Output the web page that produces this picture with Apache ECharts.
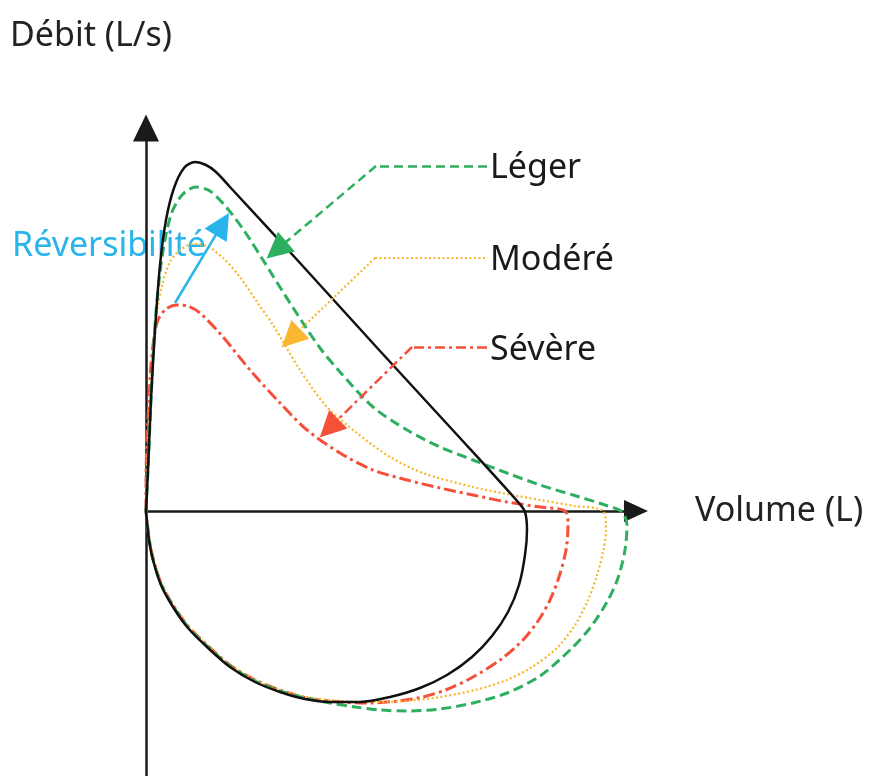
<!DOCTYPE html>
<html><head><meta charset="utf-8">
<script src="https://cdn.jsdelivr.net/npm/echarts@6/dist/echarts.min.js"></script>
<style>html,body{margin:0;padding:0;background:#fff}#c{width:869px;height:776px}</style>
</head><body><div id="c"></div>
<script>
// Flow-volume loops: [volume (L), flow (L/s)]
const normalLoop = [
 [0,0],[0.02,0.41],[0.05,1.11],[0.09,1.81],[0.14,2.46],[0.20,2.91],[0.28,3.23],[0.38,3.43],[0.49,3.49],[0.60,3.46],[0.70,3.39],[0.84,3.24],
 [1.54,2.48],[2.34,1.60],[3.14,0.73],[3.72,0.09],[3.79,-0.01],[3.81,-0.19],[3.79,-0.44],[3.73,-0.74],[3.62,-1.01],[3.46,-1.25],[3.26,-1.46],
 [3.01,-1.64],[2.74,-1.77],[2.44,-1.86],[2.14,-1.91],[1.84,-1.91],[1.59,-1.88],[1.34,-1.81],[1.09,-1.71],[0.84,-1.56],[0.61,-1.36],[0.42,-1.17],
 [0.27,-0.96],[0.15,-0.74],[0.07,-0.49],[0.03,-0.29],[0.01,-0.11],[0,0]
];
const legerLoop = [
 [0,0],[0.02,0.41],[0.05,1.11],[0.08,1.71],[0.12,2.21],[0.18,2.66],[0.26,2.99],[0.37,3.17],[0.50,3.24],[0.64,3.20],[0.81,3.03],[0.99,2.79],
 [1.17,2.51],[1.37,2.19],[1.57,1.88],[1.74,1.63],[1.94,1.39],[2.27,1.04],[2.61,0.81],[2.94,0.64],[3.27,0.51],[3.61,0.38],[3.94,0.26],[4.27,0.16],
 [4.59,0.06],[4.76,-0.01],[4.81,-0.14],[4.79,-0.39],[4.72,-0.67],[4.61,-0.91],[4.44,-1.17],[4.24,-1.39],[3.94,-1.65],[3.61,-1.82],[3.27,-1.92],
 [2.94,-1.98],[2.61,-2.00],[2.34,-1.99],[2.09,-1.96],[1.84,-1.92],[1.59,-1.87],[1.34,-1.80],[1.09,-1.70],[0.84,-1.55],[0.61,-1.35],[0.42,-1.16],
 [0.27,-0.95],[0.15,-0.73],[0.07,-0.48],[0.03,-0.28],[0.01,-0.10],[0,0]
];
const modereLoop = [
 [0,0],[0.01,0.41],[0.03,0.91],[0.06,1.41],[0.10,1.91],[0.16,2.26],[0.24,2.49],[0.34,2.61],[0.47,2.67],[0.61,2.65],[0.77,2.53],[0.94,2.34],
 [1.11,2.09],[1.27,1.86],[1.54,1.41],[1.81,1.04],[2.11,0.78],[2.44,0.54],[2.77,0.38],[3.27,0.24],[3.61,0.17],[3.94,0.11],[4.29,0.05],[4.57,0],
 [4.60,-0.19],[4.57,-0.41],[4.51,-0.64],[4.42,-0.89],[4.29,-1.14],[4.11,-1.37],[3.86,-1.56],[3.61,-1.69],[3.29,-1.79],[2.94,-1.86],[2.59,-1.90],
 [2.24,-1.91],[1.94,-1.90],[1.61,-1.86],[1.34,-1.79],[1.09,-1.69],[0.84,-1.54],[0.61,-1.34],[0.42,-1.15],[0.27,-0.94],[0.15,-0.72],[0.07,-0.47],
 [0.03,-0.27],[0,0]
];
const severeLoop = [
 [0,0],[0,0.31],[0.01,0.71],[0.03,1.11],[0.05,1.46],[0.08,1.73],[0.12,1.91],[0.20,2.02],[0.31,2.06],[0.42,2.05],[0.54,1.98],[0.77,1.74],
 [1.04,1.41],[1.34,1.08],[1.61,0.81],[1.94,0.58],[2.27,0.41],[2.61,0.31],[2.94,0.23],[3.27,0.16],[3.61,0.09],[3.94,0.04],[4.19,0],
 [4.22,-0.14],[4.20,-0.39],[4.13,-0.66],[4.04,-0.89],[3.92,-1.10],[3.77,-1.29],[3.54,-1.49],[3.27,-1.66],[3.02,-1.78],[2.77,-1.86],[2.52,-1.90],
 [2.24,-1.92],[1.94,-1.91],[1.61,-1.87],[1.34,-1.79],[1.09,-1.69],[0.84,-1.54],[0.61,-1.34],[0.42,-1.15],[0.27,-0.94],[0.15,-0.72],[0.07,-0.47],
 [0.03,-0.27],[0,0]
];
// Annotation leaders: [label end, corner, arrow end] in chart units
const legerLeader = [[3.41,3.45],[2.30,3.45],[1.305,2.61]];
const modereLeader = [[3.39,2.53],[2.29,2.53],[1.45,1.726]];
const severeLeader = [[3.41,1.64],[2.66,1.64],[1.83,0.827]];
const reversibiliteArrow = [[0.29,2.08],[0.763,2.869]];
const labels = ['Léger','Modéré','Sévère','Réversibilité'];

const C = {black:'#111111', green:'#2eaf60', orange:'#f8b62a', red:'#f4503a', blue:'#27b5eb'};
const FONT = '"Noto Sans", "Open Sans", sans-serif';

function leader(pts, color, type, arrowColor, width) {
  return {
    type:'lines', coordinateSystem:'cartesian2d', z:5, silent:true,
    lineStyle:{opacity:1, width:width, color:color, type:type},
    data:[
      {coords:[pts[0],pts[1]], symbol:['none','none']},
      {coords:[pts[1],pts[2]], symbol:['none','triangle'], symbolSize:[1,26], itemStyle:{color:arrowColor}}
    ]
  };
}

const chart = echarts.init(document.getElementById('c'), null, {renderer:'canvas'});
chart.setOption({
  animation:false,
  backgroundColor:'#fff',
  grid:{left:146, right:233, top:128, bottom:0, containLabel:false, outerBoundsMode:'none'},
  xAxis:{type:'value', min:0, max:4.9, name:'Volume (L)', nameLocation:'end', nameGap:59,
    nameTextStyle:{fontFamily:FONT, fontSize:34, color:'#222', verticalAlign:'middle', align:'left'},
    axisLine:{onZero:true, lineStyle:{color:'#1a1a1a', width:2.5}, symbol:['none','triangle'], symbolSize:[22,24]},
    axisTick:{show:false}, axisLabel:{show:false}, splitLine:{show:false}},
  yAxis:{type:'value', min:-2.65, max:3.83, name:'Débit (L/s)', nameLocation:'end', nameGap:92,
    nameTextStyle:{fontFamily:FONT, fontSize:34, color:'#222', verticalAlign:'middle', align:'left', padding:[0,0,0,-136]},
    axisLine:{onZero:false, lineStyle:{color:'#1a1a1a', width:2.5}, symbol:['none','triangle'], symbolSize:[26,27]},
    axisTick:{show:false}, axisLabel:{show:false}, splitLine:{show:false}},
  series:[
    {type:'line', name:'Sévère', data:severeLoop, smooth:0.3, symbol:'none', lineStyle:{color:C.red, width:3, type:[12,4,3,4]}},
    {type:'line', name:'Modéré', data:modereLoop, smooth:0.3, symbol:'none', lineStyle:{color:C.orange, width:2.2, type:[2,2.5]}},
    {type:'line', name:'Léger', data:legerLoop, smooth:0.3, symbol:'none', lineStyle:{color:C.green, width:3, type:[10,5]}},
    {type:'line', name:'Normal', data:normalLoop, smooth:0.3, symbol:'none', lineStyle:{color:C.black, width:2.5}},
    leader(legerLeader, C.green, [9,5], '#2fb35c', 2.5),
    leader(modereLeader, '#fbb731', [2,2.5], '#fbb731', 2.2),
    leader(severeLeader, C.red, [10,4,3,4], '#ff3b1c', 2.5),
    {type:'lines', coordinateSystem:'cartesian2d', z:5, silent:true,
      lineStyle:{opacity:1, width:2.5, color:C.blue, type:'solid'},
      data:[{coords:reversibiliteArrow, symbol:['none','triangle'], symbolSize:[1,26]}]}
  ],
  graphic:[
    {type:'text', x:490, y:168, style:{text:labels[0], font:'34px '+FONT, fill:'#1a1a1a', align:'left', verticalAlign:'middle'}},
    {type:'text', x:490, y:260, style:{text:labels[1], font:'34px '+FONT, fill:'#1a1a1a', align:'left', verticalAlign:'middle'}},
    {type:'text', x:490, y:350, style:{text:labels[2], font:'34px '+FONT, fill:'#1a1a1a', align:'left', verticalAlign:'middle'}},
    {type:'text', x:12, y:246, style:{text:labels[3], font:'34px '+FONT, fill:C.blue, align:'left', verticalAlign:'middle'}}
  ]
});
</script></body></html>
